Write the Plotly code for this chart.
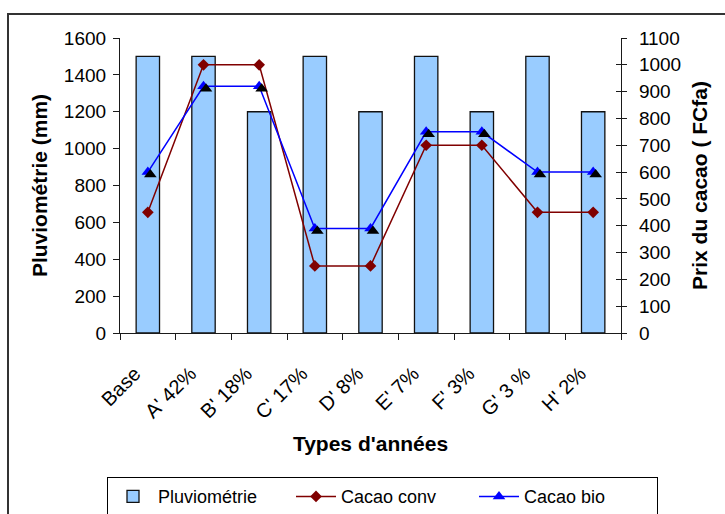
import plotly.graph_objects as go

categories = ["Base", "A' 42%", "B' 18%", "C' 17%", "D' 8%", "E' 7%", "F' 3%", "G' 3 %", "H' 2%"]
pluviometrie = [1500, 1500, 1200, 1500, 1200, 1500, 1200, 1500, 1200]
cacao_conv = [450, 1000, 1000, 250, 250, 700, 700, 450, 450]
cacao_bio = [600, 920, 920, 390, 390, 750, 750, 600, 600]

left_ticks = list(range(0, 1601, 200))
right_ticks = list(range(0, 1101, 100))

FONT = "Liberation Sans, Arial, sans-serif"
AX = "#1a1a1a"

W, H = 725, 514
ML, MR, MT, MB = 120, 104, 38, 181
PW = W - ML - MR
PH = H - MT - MB

n = len(categories)
px_x = n / PW            # category units per pixel
px_y2 = 1100 / PH        # right-axis units per pixel
shadow_dx, shadow_dy = 2.5, 2.5

fig = go.Figure()

fig.add_trace(go.Bar(
    x=categories, y=pluviometrie, name="Pluviométrie",
    marker=dict(color="#99CCFF", line=dict(color="#111111", width=1.3)),
    xaxis="x", yaxis="y",
))

# shadow of triangles (Excel style), drawn through shifted overlaying axes
fig.add_trace(go.Scatter(
    x=categories, y=cacao_bio, mode="markers", showlegend=False, hoverinfo="skip",
    marker=dict(symbol="triangle-up", size=11, color="#000000"),
    xaxis="x3", yaxis="y3",
))

fig.add_trace(go.Scatter(
    x=categories, y=cacao_conv, name="Cacao conv", mode="lines+markers",
    line=dict(color="#800000", width=1.5),
    marker=dict(symbol="diamond", size=9, color="#800000"),
    xaxis="x", yaxis="y2",
))
fig.add_trace(go.Scatter(
    x=categories, y=cacao_bio, name="Cacao bio", mode="lines+markers",
    line=dict(color="#0000FF", width=1.5),
    marker=dict(symbol="triangle-up", size=11, color="#0000FF"),
    xaxis="x", yaxis="y2",
))

# empty trace so the crossing-tick axis is drawn
fig.add_trace(go.Scatter(x=[categories[0]], y=[None], xaxis="x", yaxis="y4",
                         showlegend=False, hoverinfo="skip", mode="markers"))

fig.update_layout(
    width=W, height=H,
    margin=dict(l=ML, r=MR, t=MT, b=MB, autoexpand=False),
    paper_bgcolor="white", plot_bgcolor="white",
    font=dict(family=FONT, size=19, color="#000000"),
    bargap=0.58,
    showlegend=True,
    legend=dict(
        orientation="h", x=(107 - ML) / PW, xanchor="left", y=-0.489, yanchor="top",
        bordercolor="#000000", borderwidth=1, bgcolor="white",
        font=dict(size=18), itemwidth=40, entrywidth=128,
        traceorder="normal",
    ),
    xaxis=dict(
        type="category", categoryorder="array", categoryarray=categories,
        range=[-0.5, n - 0.5], automargin=False,
        showline=True, linecolor=AX, linewidth=1.2,
        ticks="outside", ticklen=6, tickcolor=AX, tickson="boundaries",
        tickangle=-45, ticklabelstandoff=20, ticklabelshift=-13,
        tickfont=dict(size=20),
        title=dict(text="<b>Types d'années</b>", font=dict(size=21), standoff=14),
        showgrid=False, zeroline=False, fixedrange=True,
    ),
    yaxis=dict(
        range=[0, 1600], tickvals=left_ticks, automargin=False,
        showline=True, linecolor=AX, linewidth=1.2,
        ticks="outside", ticklen=6, tickcolor=AX,
        tickfont=dict(size=19), ticklabelstandoff=3,
        title=dict(text="<b>Pluviométrie (mm)</b>", font=dict(size=21), standoff=10),
        showgrid=False, zeroline=False,
    ),
    yaxis2=dict(
        range=[0, 1100], tickvals=right_ticks, overlaying="y", side="right",
        automargin=False,
        showline=True, linecolor=AX, linewidth=1.2,
        ticks="outside", ticklen=5, tickcolor=AX,
        tickfont=dict(size=19), ticklabelstandoff=8,
        title=dict(text="<b>Prix du cacao ( FCfa)</b>", font=dict(size=21), standoff=12),
        showgrid=False, zeroline=False,
    ),
    yaxis4=dict(
        range=[0, 1100], tickvals=right_ticks, overlaying="y", side="right",
        automargin=False,
        showline=False, ticks="inside", ticklen=5, tickcolor=AX,
        showticklabels=False, showgrid=False, zeroline=False,
    ),
    xaxis3=dict(
        type="category", categoryorder="array", categoryarray=categories,
        overlaying="x", visible=False, automargin=False,
        range=[-0.5 - shadow_dx * px_x, n - 0.5 - shadow_dx * px_x],
    ),
    yaxis3=dict(
        overlaying="y", visible=False, anchor="x3", automargin=False,
        range=[0 + shadow_dy * px_y2, 1100 + shadow_dy * px_y2],
    ),
)

# outer chart-area frame
fig.add_shape(type="rect", xref="paper", yref="paper",
              x0=(8 - ML) / PW, x1=(W + 20 - ML) / PW,
              y0=(PH + MT - (H + 20)) / PH, y1=(PH + MT - 14) / PH,
              line=dict(color="#333333", width=2), fillcolor="rgba(0,0,0,0)",
              layer="below")

fig.write_html("out.html")
